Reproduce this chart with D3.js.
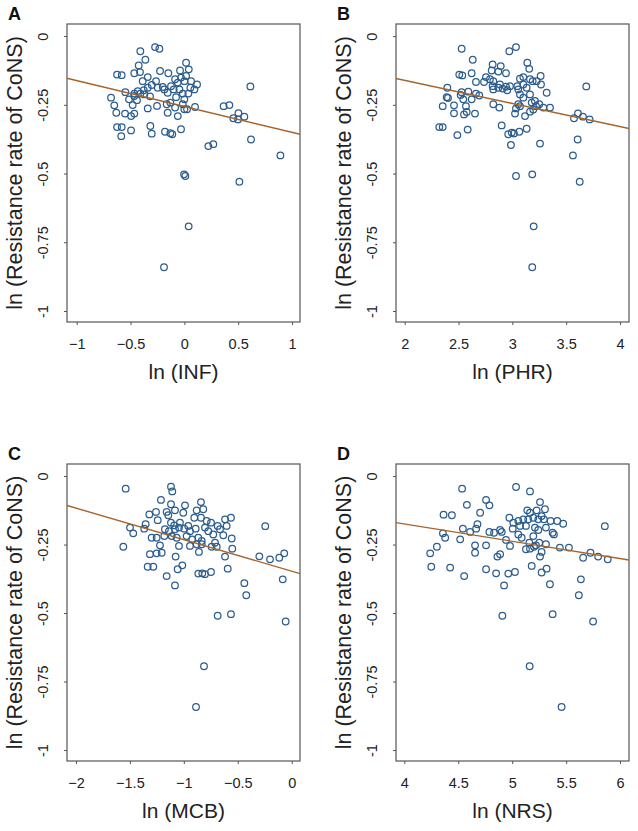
<!DOCTYPE html>
<html>
<head>
<meta charset="utf-8">
<script src="https://cdn.jsdelivr.net/npm/d3@7"></script>
<style>
  body { margin: 0; background: #fff; }
  svg { display: block; font-family: "Liberation Sans", Arial, sans-serif; }
</style>
</head>
<body>
<svg id="chart" width="638" height="831"></svg>
<script>
// y is ln(resistance rate of CoNS), same for every panel
const yTicks = [0, -0.25, -0.5, -0.75, -1]
const yTickLabels = ['0', '-0.25', '-0.5', '-0.75', '-1']

const xTicksINF = [-1, -0.5, 0, 0.5, 1]
const xTicksPHR = [2, 2.5, 3, 3.5, 4]
const xTicksMCB = [-2, -1.5, -1, -0.5, 0]
const xTicksNRS = [4, 4.5, 5, 5.5, 6]

// fitted lines: [intercept, slope]
const fitINF = [-0.256, -0.094]
const fitPHR = [0.007, -0.084]
const fitMCB = [-0.347, -0.115]
const fitNRS = [0.077, -0.063]

const ptsINF = [
  [-0.409,-0.055],[-0.272,-0.040],[-0.232,-0.046],[-0.362,-0.086],[0.016,-0.097],[-0.424,-0.107],
  [0.041,-0.121],[-0.625,-0.140],[-0.582,-0.142],[-0.465,-0.135],[-0.412,-0.131],[-0.226,-0.127],
  [-0.149,-0.135],[-0.040,-0.125],[-0.340,-0.149],[-0.387,-0.164],[-0.263,-0.164],[-0.201,-0.185],
  [-0.086,-0.157],[-0.031,-0.151],[0.016,-0.145],[-0.061,-0.169],[0.000,-0.164],[0.062,-0.164],
  [0.118,-0.176],[0.056,-0.188],[-0.303,-0.178],[-0.340,-0.188],[-0.377,-0.197],[-0.433,-0.200],
  [-0.465,-0.209],[-0.548,-0.204],[-0.514,-0.230],[-0.465,-0.218],[-0.409,-0.209],[-0.372,-0.212],
  [-0.319,-0.219],[-0.247,-0.188],[-0.186,-0.194],[-0.124,-0.182],[-0.155,-0.206],[-0.099,-0.194],
  [-0.046,-0.194],[-0.015,-0.209],[-0.077,-0.222],[0.037,-0.209],[0.093,-0.194],[-0.681,-0.224],
  [-0.651,-0.252],[-0.480,-0.251],[-0.440,-0.233],[-0.340,-0.263],[-0.254,-0.254],[-0.164,-0.248],
  [-0.130,-0.242],[-0.086,-0.260],[-0.015,-0.248],[0.000,-0.266],[0.025,-0.266],[0.099,-0.258],
  [-0.632,-0.279],[-0.551,-0.282],[-0.465,-0.282],[-0.495,-0.291],[-0.155,-0.279],[-0.061,-0.291],
  [0.000,-0.230],[-0.625,-0.331],[-0.582,-0.331],[-0.495,-0.343],[-0.316,-0.327],[-0.303,-0.355],
  [-0.180,-0.348],[-0.130,-0.353],[-0.112,-0.357],[-0.031,-0.339],[-0.586,-0.364],
  [0.613,-0.183],[0.365,-0.255],[0.418,-0.251],[0.455,-0.299],[0.502,-0.280],[0.498,-0.303],
  [0.557,-0.293],[0.223,-0.400],[0.269,-0.393],[0.619,-0.376],[0.892,-0.434],[-0.003,-0.503],
  [0.009,-0.509],[0.511,-0.530],[0.040,-0.692],[-0.189,-0.841]
]

const ptsPHR = [
  [2.529,-0.046],[2.972,-0.055],[3.034,-0.040],[2.632,-0.086],[3.139,-0.097],[2.817,-0.103],
  [2.892,-0.109],[3.157,-0.119],[2.808,-0.125],[2.870,-0.129],[2.507,-0.140],[2.535,-0.143],
  [2.622,-0.135],[2.941,-0.135],[2.755,-0.149],[2.792,-0.157],[2.662,-0.167],[2.737,-0.167],
  [2.823,-0.164],[3.071,-0.155],[3.102,-0.149],[3.164,-0.157],[3.263,-0.145],[2.817,-0.182],
  [2.885,-0.176],[2.941,-0.184],[2.978,-0.182],[3.046,-0.182],[3.102,-0.176],[3.189,-0.164],
  [3.226,-0.164],[3.266,-0.176],[3.319,-0.206],[2.396,-0.188],[2.390,-0.222],[2.529,-0.204],
  [2.520,-0.214],[2.591,-0.202],[2.622,-0.230],[2.662,-0.209],[2.693,-0.216],[2.823,-0.194],
  [2.870,-0.188],[2.910,-0.191],[2.953,-0.197],[3.055,-0.194],[3.071,-0.212],[3.133,-0.188],
  [3.102,-0.224],[3.164,-0.212],[2.544,-0.230],[2.353,-0.255],[2.458,-0.252],[2.569,-0.255],
  [2.823,-0.248],[2.879,-0.260],[3.055,-0.248],[3.071,-0.255],[3.034,-0.263],[3.180,-0.242],
  [3.210,-0.236],[3.220,-0.255],[3.250,-0.248],[3.288,-0.260],[3.350,-0.260],[2.458,-0.281],
  [2.551,-0.285],[2.576,-0.276],[2.653,-0.282],[3.025,-0.282],[3.164,-0.275],[3.195,-0.267],
  [3.118,-0.291],[2.321,-0.331],[2.353,-0.331],[2.585,-0.340],[2.489,-0.360],[2.901,-0.325],
  [3.133,-0.337],[2.962,-0.357],[2.994,-0.351],[3.065,-0.348],[3.015,-0.354],[2.987,-0.396],
  [3.257,-0.391],[2.402,-0.225],
  [3.687,-0.183],[3.573,-0.299],[3.610,-0.281],[3.656,-0.293],[3.718,-0.303],[3.607,-0.376],
  [3.563,-0.434],[3.626,-0.530],[3.034,-0.509],[3.185,-0.503],[3.198,-0.692],[3.185,-0.841]
]

const ptsMCB = [
  [-1.539,-0.046],[-1.119,-0.039],[-1.107,-0.056],[-1.212,-0.087],[-0.841,-0.095],[-1.119,-0.103],
  [-0.989,-0.107],[-1.082,-0.125],[-0.881,-0.125],[-0.820,-0.121],[-1.320,-0.140],[-1.258,-0.131],
  [-1.159,-0.131],[-1.144,-0.143],[-1.005,-0.134],[-0.903,-0.152],[-0.841,-0.152],[-1.242,-0.161],
  [-1.354,-0.176],[-1.119,-0.170],[-1.089,-0.180],[-1.036,-0.170],[-0.959,-0.182],[-0.788,-0.164],
  [-0.748,-0.170],[-0.686,-0.182],[-0.618,-0.158],[-0.563,-0.152],[-0.603,-0.182],[-1.499,-0.188],
  [-1.469,-0.209],[-1.367,-0.192],[-1.175,-0.194],[-1.138,-0.201],[-1.082,-0.194],[-1.045,-0.188],
  [-0.996,-0.192],[-0.943,-0.201],[-0.890,-0.192],[-0.804,-0.188],[-0.773,-0.201],[-0.727,-0.213],
  [-0.665,-0.194],[-0.634,-0.216],[-1.298,-0.225],[-1.252,-0.225],[-1.181,-0.219],[-1.113,-0.219],
  [-1.066,-0.225],[-0.974,-0.219],[-0.922,-0.231],[-0.866,-0.225],[-0.834,-0.237],[-0.711,-0.243],
  [-0.556,-0.228],[-1.561,-0.258],[-1.221,-0.253],[-1.045,-0.255],[-0.943,-0.255],[-0.881,-0.249],
  [-0.834,-0.249],[-0.742,-0.258],[-0.695,-0.258],[-0.551,-0.265],[-1.314,-0.285],[-1.252,-0.282],
  [-1.205,-0.280],[-1.076,-0.294],[-0.860,-0.277],[-0.618,-0.294],[-1.335,-0.331],[-1.283,-0.331],
  [-1.014,-0.326],[-1.057,-0.340],[-0.593,-0.338],[-1.159,-0.365],[-0.866,-0.356],[-0.829,-0.355],
  [-0.804,-0.358],[-0.748,-0.350],[-1.082,-0.399],[-0.439,-0.391],
  [-0.245,-0.183],[-0.300,-0.293],[-0.201,-0.304],[-0.115,-0.298],[-0.069,-0.282],[-0.083,-0.377],
  [-0.421,-0.435],[-0.686,-0.510],[-0.563,-0.504],[-0.056,-0.531],[-0.813,-0.694],[-0.887,-0.843]
]

const ptsNRS = [
  [4.536,-0.046],[5.036,-0.040],[5.165,-0.056],[4.580,-0.105],[4.758,-0.087],[4.789,-0.107],
  [5.258,-0.095],[4.703,-0.134],[4.364,-0.141],[4.441,-0.143],[5.140,-0.125],[5.165,-0.134],
  [5.227,-0.125],[5.304,-0.121],[5.273,-0.146],[4.974,-0.152],[5.011,-0.170],[5.057,-0.164],
  [5.103,-0.158],[5.149,-0.158],[5.196,-0.152],[5.242,-0.158],[5.294,-0.158],[5.356,-0.164],
  [5.418,-0.164],[5.473,-0.174],[4.543,-0.192],[4.666,-0.192],[4.678,-0.176],[4.610,-0.204],
  [4.789,-0.204],[4.832,-0.207],[4.888,-0.197],[4.903,-0.204],[5.005,-0.192],[5.073,-0.182],
  [5.128,-0.182],[5.211,-0.188],[5.313,-0.188],[5.375,-0.207],[5.387,-0.213],[5.057,-0.213],
  [5.088,-0.225],[5.196,-0.219],[5.242,-0.197],[4.358,-0.209],[4.379,-0.225],[4.518,-0.231],
  [4.943,-0.233],[4.980,-0.255],[5.159,-0.243],[5.221,-0.253],[5.251,-0.243],[5.313,-0.249],
  [4.302,-0.258],[4.656,-0.253],[4.758,-0.253],[5.128,-0.267],[5.165,-0.265],[5.202,-0.258],
  [5.273,-0.277],[5.442,-0.261],[5.526,-0.261],[4.240,-0.282],[4.656,-0.280],[4.863,-0.294],
  [4.888,-0.285],[5.258,-0.294],[5.658,-0.298],[5.726,-0.280],[5.797,-0.294],[4.250,-0.331],
  [4.425,-0.334],[4.758,-0.340],[4.851,-0.355],[4.964,-0.356],[5.026,-0.350],[5.181,-0.328],
  [5.273,-0.352],[5.319,-0.338],[4.555,-0.365],[4.925,-0.399],[5.350,-0.395],[5.637,-0.377],
  [5.859,-0.183],[5.886,-0.304],[5.618,-0.435],[4.909,-0.510],[5.375,-0.504],[5.750,-0.531],
  [5.162,-0.694],[5.458,-0.843]
]

const panels = [
  { letter: 'A', title: 'ln (INF)', pts: ptsINF, ticks: xTicksINF, fit: fitINF,
    left: 67, right: 300, top: 24, bottom: 322, xDomain: [-1.09, 1.074] },
  { letter: 'B', title: 'ln (PHR)', pts: ptsPHR, ticks: xTicksPHR, fit: fitPHR,
    left: 396, right: 629, top: 24, bottom: 322, xDomain: [1.919, 4.084] },
  { letter: 'C', title: 'ln (MCB)', pts: ptsMCB, ticks: xTicksMCB, fit: fitMCB,
    left: 67, right: 300, top: 464, bottom: 761, xDomain: [-2.083, 0.077] },
  { letter: 'D', title: 'ln (NRS)', pts: ptsNRS, ticks: xTicksNRS, fit: fitNRS,
    left: 396, right: 629, top: 464, bottom: 761, xDomain: [3.923, 6.083] }
]

const svg = d3.select('#chart')
const boxColor = '#555'
const dotColor = '#2c5d8f'
const lineColor = '#a5652c'

panels.forEach(p => drawPanel(p))

function drawPanel(p) {
  const x = d3.scaleLinear().domain(p.xDomain).range([p.left, p.right])
  const y = d3.scaleLinear().domain([-1.04, 0.044]).range([p.bottom, p.top])
  const g = svg.append('g')

  // y axis (rotated labels, outward ticks)
  const yAxis = d3.axisLeft(y).tickValues(yTicks).tickSize(3).tickPadding(0)
    .tickFormat((d, i) => yTickLabels[i])
  const ya = g.append('g').attr('transform', `translate(${p.left},0)`).call(yAxis)
  ya.select('.domain').remove()
  ya.selectAll('.tick line').attr('stroke', boxColor)
  ya.selectAll('.tick text')
    .attr('x', null).attr('dy', null)
    .attr('transform', 'translate(-19,0) rotate(-90)')
    .attr('text-anchor', 'middle')
    .attr('font-size', 14.5).attr('fill', '#222')

  // x axis
  const xAxis = d3.axisBottom(x).tickValues(p.ticks).tickSize(3).tickPadding(0)
    .tickFormat(d3.format('~g'))
  const xa = g.append('g').attr('transform', `translate(0,${p.bottom})`).call(xAxis)
  xa.select('.domain').remove()
  xa.selectAll('.tick line').attr('stroke', boxColor)
  xa.selectAll('.tick text')
    .attr('y', 27).attr('dy', null)
    .attr('font-size', 14.5).attr('fill', '#222')

  // box
  g.append('rect')
    .attr('x', p.left).attr('y', p.top)
    .attr('width', p.right - p.left).attr('height', p.bottom - p.top)
    .attr('fill', 'none').attr('stroke', boxColor).attr('stroke-width', 1.2)

  // points
  g.append('g').selectAll('circle')
    .data(p.pts)
    .join('circle')
    .attr('cx', d => x(d[0]))
    .attr('cy', d => y(d[1]))
    .attr('r', 3.3)
    .attr('fill', 'none')
    .attr('stroke', dotColor)
    .attr('stroke-width', 1.25)

  // fitted line across the plot box
  const [b0, b1] = p.fit
  g.append('line')
    .attr('x1', x(p.xDomain[0])).attr('y1', y(b0 + b1 * p.xDomain[0]))
    .attr('x2', x(p.xDomain[1])).attr('y2', y(b0 + b1 * p.xDomain[1]))
    .attr('stroke', lineColor).attr('stroke-width', 1.4)

  // titles
  g.append('text')
    .attr('x', (p.left + p.right) / 2).attr('y', p.bottom + 57)
    .attr('text-anchor', 'middle').attr('font-size', 21).attr('fill', '#222')
    .text(p.title)

  g.append('text')
    .attr('transform', `translate(${p.left - 45},${(p.top + p.bottom) / 2}) rotate(-90)`)
    .attr('text-anchor', 'middle').attr('font-size', 21.5).attr('fill', '#222')
    .text('ln (Resistance rate of CoNS)')

  g.append('text')
    .attr('x', p.left - 59).attr('y', p.top - 4)
    .attr('font-size', 18).attr('font-weight', 'bold').attr('fill', '#111')
    .text(p.letter)
}
</script>
</body>
</html>
